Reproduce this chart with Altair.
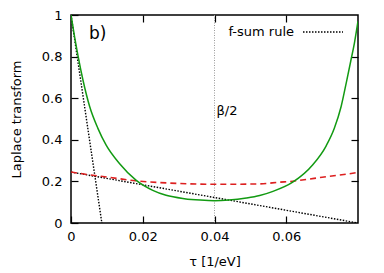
import altair as alt
import pandas as pd

# ---- data ----
tau_green = [0.0, 0.001, 0.002, 0.0033, 0.0052, 0.0075, 0.0098, 0.0135, 0.0181, 0.0228,
             0.0265, 0.0316, 0.036, 0.040, 0.044, 0.0489, 0.0526, 0.0563, 0.0618,
             0.0674, 0.0711, 0.0734, 0.0753, 0.0768, 0.078, 0.079, 0.080]
lt_green = [1.0, 0.895, 0.8, 0.69, 0.56, 0.455, 0.374, 0.286, 0.206, 0.157,
            0.133, 0.117, 0.11, 0.107, 0.11, 0.12, 0.132, 0.152, 0.196,
            0.28, 0.37, 0.455, 0.56, 0.68, 0.78, 0.865, 0.97]

tau_red = [0.0, 0.005, 0.010, 0.018, 0.0304, 0.040, 0.0526, 0.058, 0.0618, 0.0637,
           0.070, 0.0794, 0.080]
lt_red = [0.245, 0.232, 0.221, 0.203, 0.19, 0.186, 0.188, 0.196, 0.201, 0.205,
          0.22, 0.242, 0.244]

fsum_tau_steep = [0.0, 0.0086]
fsum_val_steep = [1.0, 0.0]
fsum_tau_shallow = [0.0, 0.08]
fsum_val_shallow = [0.245, 0.0]

x_ticks = [0, 0.02, 0.04, 0.06]
x_ticks_top = [0.02, 0.04, 0.06]
y_ticks = [0, 0.2, 0.4, 0.6, 0.8, 1.0]
y_ticks_right = [0.2, 0.4, 0.6, 0.8]
beta_half = 0.04
x_domain = [0, 0.08]
y_domain = [0, 1]

FONT = "DejaVu Sans"

green_df = pd.DataFrame({"tau": tau_green, "v": lt_green})
red_df = pd.DataFrame({"tau": tau_red, "v": lt_red})
fsum_df = pd.DataFrame({
    "tau": fsum_tau_steep + fsum_tau_shallow,
    "v": fsum_val_steep + fsum_val_shallow,
    "line": ["steep"] * 2 + ["shallow"] * 2,
    "name": ["f-sum rule"] * 4,
})

xscale = alt.Scale(domain=x_domain, nice=False, zero=False)
yscale = alt.Scale(domain=y_domain, nice=False)

common = dict(domain=False, grid=False, tickSize=7, offset=-7, tickColor="black",
              tickWidth=1.2, labelFont=FONT, labelFontSize=13, labelColor="black",
              titleFont=FONT, titleFontSize=13, titleFontWeight="normal",
              titleColor="black", format="~g", labelFlush=False, labelOverlap=False)

x_bottom = alt.Axis(orient="bottom", values=x_ticks, title="τ [1/eV]",
                    labelPadding=7, titlePadding=12, **common)
y_left = alt.Axis(orient="left", values=y_ticks, title="Laplace transform",
                  labelPadding=9, titlePadding=18, **common)
x_top = alt.Axis(orient="top", values=x_ticks_top, title=None, labels=False, **common)
y_right = alt.Axis(orient="right", values=y_ticks_right, title=None, labels=False, **common)

green = alt.Chart(green_df).mark_line(
    color="#129a12", strokeWidth=1.5, interpolate="monotone", clip=True
).encode(
    x=alt.X("tau:Q", scale=xscale, axis=x_bottom),
    y=alt.Y("v:Q", scale=yscale, axis=y_left),
)

red = alt.Chart(red_df).mark_line(
    color="#dd2020", strokeWidth=1.6, strokeDash=[6, 4], interpolate="monotone", clip=True
).encode(
    x=alt.X("tau:Q", scale=xscale, axis=x_top),
    y=alt.Y("v:Q", scale=yscale, axis=y_right),
)

fsum = alt.Chart(fsum_df).mark_line(
    strokeWidth=1.4, strokeDash=[1.5, 1.5], clip=True
).encode(
    x=alt.X("tau:Q", scale=xscale, axis=None),
    y=alt.Y("v:Q", scale=yscale, axis=None),
    detail="line:N",
    color=alt.Color("name:N", scale=alt.Scale(domain=["f-sum rule"], range=["black"]),
                    legend=alt.Legend(title=None, orient="none", legendX=231, legendY=-4,
                                      symbolType="stroke", symbolSize=1600,
                                      symbolDash=[1.5, 1.5], symbolStrokeWidth=1.4,
                                      labelAlign="right", labelOffset={"expr": "-50"},
                                      labelFont=FONT, labelFontSize=13,
                                      labelColor="black", padding=0)),
)

vline = alt.Chart(pd.DataFrame({"tau": [beta_half]})).mark_rule(
    color="#9a9a9a", strokeWidth=1, strokeDash=[1, 1.5]
).encode(x=alt.X("tau:Q", scale=xscale, axis=None))

beta_text = alt.Chart(pd.DataFrame({"tau": [beta_half], "v": [0.54], "t": ["β/2"]})).mark_text(
    font=FONT, fontSize=13, align="left", baseline="middle", dx=2, color="black"
).encode(
    x=alt.X("tau:Q", scale=xscale, axis=None),
    y=alt.Y("v:Q", scale=yscale, axis=None),
    text="t:N",
)

panel_text = alt.Chart(pd.DataFrame({"tau": [0.005], "v": [0.91], "t": ["b)"]})).mark_text(
    font=FONT, fontSize=17, align="left", baseline="middle", color="black"
).encode(
    x=alt.X("tau:Q", scale=xscale, axis=None),
    y=alt.Y("v:Q", scale=yscale, axis=None),
    text="t:N",
)

chart = alt.layer(vline, fsum, red, green, beta_text, panel_text).resolve_axis(
    x="independent", y="independent"
).properties(
    width=287, height=208,
    autosize=alt.AutoSizeParams(type="none"),
    padding={"left": 63, "top": 7, "right": 18, "bottom": 50},
).configure_view(stroke="black", strokeWidth=1.5)

chart.save("out.html", embed_options={"renderer": "svg", "actions": False})
